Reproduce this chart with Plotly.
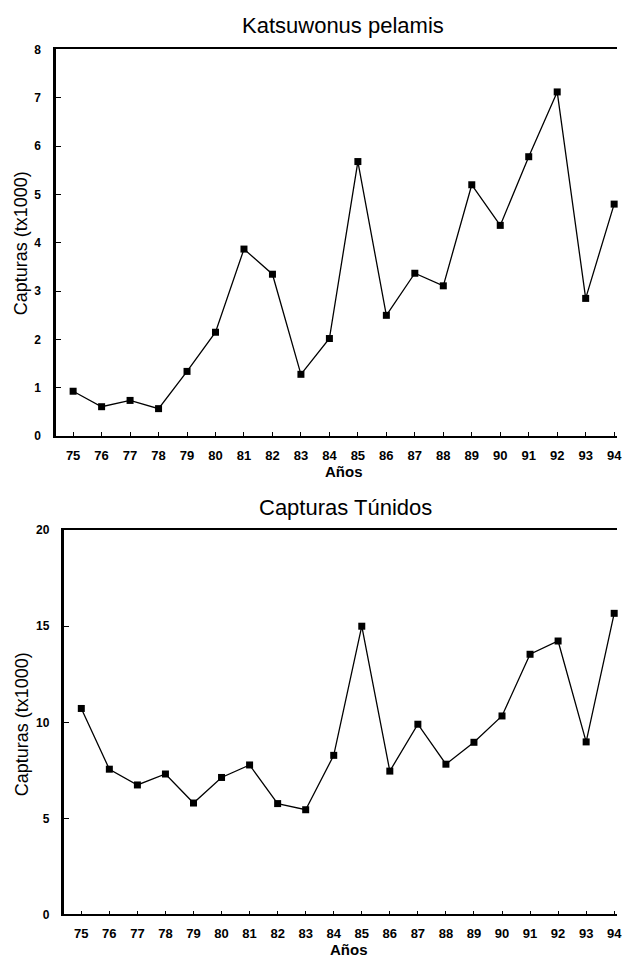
import plotly.graph_objects as go

years = list(range(75, 95))
year_labels = [str(y) for y in years]

katsuwonus = [0.93, 0.61, 0.74, 0.57, 1.34, 2.15, 3.87, 3.35, 1.28, 2.02,
              5.68, 2.50, 3.37, 3.11, 5.20, 4.36, 5.78, 7.12, 2.85, 4.80]
tunidos = [10.72, 7.56, 6.74, 7.31, 5.80, 7.13, 7.78, 5.77, 5.45, 8.28,
           15.00, 7.46, 9.90, 7.82, 8.96, 10.33, 13.54, 14.23, 8.98, 15.67]

top_title = "Katsuwonus pelamis"
bottom_title = "Capturas Túnidos"
x_title = "Años"
y_title = "Capturas (tx1000)"

W, H = 622, 968
FONT = "Liberation Sans, Arial, Helvetica, sans-serif"

fig = go.Figure()

line_style = dict(color="black", width=1.3)
marker_style = dict(symbol="square", size=7, color="black")

fig.add_trace(go.Scatter(x=years, y=katsuwonus, mode="lines+markers",
                         line=line_style, marker=marker_style, cliponaxis=False,
                         xaxis="x", yaxis="y", showlegend=False))
fig.add_trace(go.Scatter(x=years, y=tunidos, mode="lines+markers",
                         line=line_style, marker=marker_style, cliponaxis=False,
                         xaxis="x2", yaxis="y2", showlegend=False))

def px_x(v):
    return v / W

def px_y(v):
    return 1 - v / H

tick_font = dict(family=FONT, size=13, color="black", weight="bold")
ytick_font = dict(family=FONT, size=12, color="black", weight="bold")

xcommon = dict(tickmode="array", tickvals=years, ticktext=year_labels,
               ticks="inside", ticklen=4, tickwidth=1, tickcolor="black",
               showline=True, linecolor="black", linewidth=1.8, mirror=True,
               showgrid=False, zeroline=False, tickfont=tick_font,
               ticklabeloverflow="allow",
               ticklabelstandoff=6, range=[74.4, 94.1], fixedrange=True)
ycommon = dict(ticks="inside", ticklen=5, tickwidth=1, tickcolor="black",
               showline=True, linecolor="black", linewidth=2.5, mirror=False,
               showgrid=False, zeroline=False, tickfont=ytick_font,
               ticklabelstandoff=10, fixedrange=True)

fig.update_layout(
    width=W, height=H,
    margin=dict(l=0, r=0, t=0, b=0),
    paper_bgcolor="white", plot_bgcolor="white",
    xaxis=dict(domain=[px_x(56.5), 1], anchor="y", **xcommon),
    yaxis=dict(domain=[px_y(435.5), px_y(43)], anchor="x",
               range=[0, 8], tickvals=[0, 1, 2, 3, 4, 5, 6, 7, 8], **ycommon),
    xaxis2=dict(domain=[px_x(65), 1], anchor="y2", **xcommon),
    yaxis2=dict(domain=[px_y(920.8), px_y(530.8)], anchor="x2",
                range=[0, 20], tickvals=[0, 5, 10, 15, 20], **ycommon),
)

ann = []
def add_text(text, x, y, size, bold=False, angle=0):
    ann.append(dict(text=text, x=px_x(x), y=px_y(y), xref="paper", yref="paper",
                    xanchor="center", yanchor="middle", showarrow=False,
                    textangle=angle,
                    font=dict(family=FONT, size=size, color="black",
                              weight="bold" if bold else "normal")))

add_text(top_title, 346, 19, 22)
add_text(bottom_title, 348, 508, 22)
add_text(x_title, 347, 471, 15, bold=True)
add_text(x_title, 352, 956, 15, bold=True)
add_text(y_title, 21, 240, 18, angle=-90)
add_text(y_title, 23, 728, 18, angle=-90)
fig.update_layout(annotations=ann)

fig.write_html("out.html", config={"displayModeBar": False},
               post_script="document.body.style.margin='0';"
                           "document.body.style.overflow='hidden';")
